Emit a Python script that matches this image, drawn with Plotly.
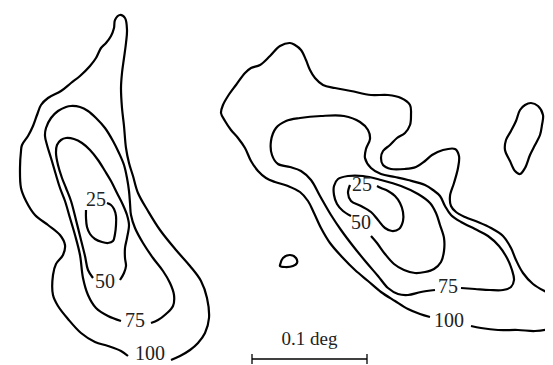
import plotly.graph_objects as go

# ---- data: contour paths (image-plane coordinates, arbitrary units) ----
# Left source
left25_x = [78, 78, 79, 82, 87, 94, 100, 105, 107, 108, 108, 106, 103, 99]
left25_y = [202, 210, 219, 226, 231, 234, 235, 233, 226, 217, 208, 201, 197, 195]

left50_x = [85, 80, 77, 73, 68, 63, 58, 54, 50, 48, 49, 53, 58, 66, 74, 82, 90, 97, 103, 109, 115, 119, 121, 119, 117, 117, 118, 116, 112]
left50_y = [270, 262, 248, 232, 212, 193, 180, 170, 157, 145, 137, 132, 130, 131, 135, 142, 152, 163, 173, 185, 197, 207, 217, 230, 240, 250, 258, 265, 272]

left75_x = [113, 100, 88, 80, 75, 72, 67, 62, 57, 52, 48, 43, 39, 37, 38, 43, 50, 58, 63, 72, 80, 88, 97, 105, 111, 116, 119, 121, 122, 123, 127, 135, 145, 155, 162, 166, 165, 158, 150, 143]
left75_y = [313, 308, 300, 287, 270, 247, 227, 210, 193, 180, 167, 150, 137, 128, 120, 110, 103, 99, 98, 99, 103, 110, 120, 133, 145, 157, 170, 183, 195, 207, 220, 235, 250, 263, 275, 287, 298, 306, 312, 315]

left100_x = [120, 113, 100, 87, 73, 60, 50, 45, 45, 48, 55, 57, 52, 40, 27, 18, 13, 12, 13, 14, 20, 25, 29, 33, 40, 53, 63, 72, 82, 88, 93, 98, 103, 106, 107, 112, 117, 119, 118, 116, 114, 113, 114, 116, 118, 121, 125, 130, 140, 152, 168, 182, 193, 199, 201, 197, 190, 182, 172, 163]
left100_y = [348, 343, 338, 334, 325, 311, 298, 287, 267, 256, 247, 237, 227, 217, 207, 193, 180, 160, 143, 137, 128, 118, 107, 97, 90, 83, 75, 68, 58, 50, 40, 35, 28, 20, 12, 7, 10, 22, 35, 50, 65, 80, 100, 118, 140, 155, 168, 185, 203, 222, 242, 258, 273, 290, 310, 325, 335, 342, 348, 352]

# Right source
right25_x = [342, 340, 343, 353, 363, 370, 377, 384, 391, 395, 395, 392, 387, 380, 373, 369]
right25_y = [177, 185, 193, 198, 204, 212, 220, 223, 221, 213, 204, 195, 188, 183, 180, 178]

right50_x = [343, 335, 329, 326, 326, 330, 340, 355, 373, 393, 410, 422, 428, 432, 436, 436, 433, 426, 417, 407, 396, 386, 377, 369, 363]
right50_y = [208, 203, 196, 187, 178, 171, 168, 168, 172, 178, 186, 195, 205, 217, 230, 243, 254, 261, 264, 265, 262, 256, 246, 235, 228]

right75_x = [453, 467, 482, 495, 503, 506, 504, 499, 491, 480, 467, 453, 443, 437, 432, 425, 417, 400, 387, 373, 363, 357, 358, 362, 360, 352, 336, 313, 292, 278, 268, 263, 264, 270, 282, 293, 303, 312, 323, 333, 345, 358, 370, 380, 390, 400, 413, 427]
right75_y = [280, 281, 282, 282, 279, 272, 262, 250, 238, 228, 221, 214, 207, 198, 188, 182, 177, 172, 169, 166, 160, 150, 141, 131, 122, 114, 108, 108, 110, 113, 120, 133, 147, 156, 159, 163, 172, 188, 207, 222, 238, 254, 268, 280, 286, 287, 284, 282]

right100_x = [463, 473, 490, 510, 527, 540, 548, 556, 562, 553, 540, 525, 515, 508, 503, 495, 483, 470, 457, 448, 443, 442, 446, 450, 451, 447, 435, 424, 417, 408, 397, 383, 375, 373, 375, 382, 389, 397, 402, 403, 402, 393, 380, 363, 343, 327, 315, 307, 302, 298, 293, 287, 282, 272, 262, 252, 243, 237, 228, 220, 215, 213, 217, 223, 230, 237, 243, 250, 258, 267, 280, 292, 300, 306, 313, 322, 335, 347, 360, 373, 387, 400, 412, 422]
right100_y = [318, 320, 322, 322, 323, 321, 317, 310, 300, 292, 285, 276, 265, 252, 240, 228, 220, 214, 209, 204, 198, 188, 175, 160, 148, 141, 142, 147, 153, 159, 161, 161, 157, 150, 143, 137, 130, 125, 117, 107, 97, 90, 87, 87, 83, 80, 77, 70, 62, 52, 42, 37, 35, 38, 48, 57, 60, 65, 77, 88, 97, 105, 113, 122, 130, 140, 153, 163, 170, 174, 178, 184, 193, 205, 220, 235, 250, 262, 273, 284, 293, 301, 306, 309]

blob_x = [272, 275, 282, 288, 289, 285, 277, 272, 272]
blob_y = [257, 250, 247, 250, 255, 258, 259, 258, 257]

island_x = [523, 530, 535, 534, 532, 527, 522, 517, 512, 507, 502, 497, 498, 503, 508, 512, 517, 523]
island_y = [95, 98, 107, 117, 127, 137, 147, 160, 166, 163, 153, 142, 132, 123, 113, 102, 97, 95]

# contour labels
label_text = ["25", "50", "75", "100", "25", "50", "75", "100"]
label_x = [88, 97, 127, 142, 354, 353, 440, 441]
label_y = [193, 275, 314, 347, 178, 216, 280, 314]

# scale bar
scale_x = [244, 359]
scale_y = 351
scale_label = "0.1 deg"

FONT = "Liberation Serif, Times New Roman, serif"

fig = go.Figure()
paths = [
    (left25_x, left25_y), (left50_x, left50_y), (left75_x, left75_y), (left100_x, left100_y),
    (right25_x, right25_y), (right50_x, right50_y), (right75_x, right75_y), (right100_x, right100_y),
    (blob_x, blob_y), (island_x, island_y),
]
for px, py in paths:
    fig.add_trace(go.Scatter(x=px, y=py, mode="lines",
                             line=dict(color="black", width=2.2, shape="spline", smoothing=1.0),
                             hoverinfo="skip", showlegend=False))

fig.add_trace(go.Scatter(x=label_x, y=label_y, mode="text", text=label_text,
                         textposition="middle center", cliponaxis=False,
                         textfont=dict(family=FONT, size=20, color="#222"),
                         hoverinfo="skip", showlegend=False))

# scale bar
fig.add_trace(go.Scatter(x=scale_x, y=[scale_y, scale_y], mode="lines",
                         line=dict(color="black", width=1.3), hoverinfo="skip", showlegend=False))
for sx in scale_x:
    fig.add_trace(go.Scatter(x=[sx, sx], y=[scale_y - 5, scale_y + 5], mode="lines",
                             line=dict(color="black", width=1.3), hoverinfo="skip", showlegend=False))
fig.add_trace(go.Scatter(x=[sum(scale_x) / 2], y=[scale_y - 19], mode="text", text=[scale_label],
                         textposition="middle center", cliponaxis=False,
                         textfont=dict(family=FONT, size=19, color="#222"),
                         hoverinfo="skip", showlegend=False))

fig.update_xaxes(range=[0, 553], visible=False, fixedrange=True)
fig.update_yaxes(range=[365, 0], visible=False, fixedrange=True)
fig.update_layout(width=553, height=365, margin=dict(l=0, r=0, t=0, b=0),
                  paper_bgcolor="white", plot_bgcolor="white")
fig.write_html("out.html")
